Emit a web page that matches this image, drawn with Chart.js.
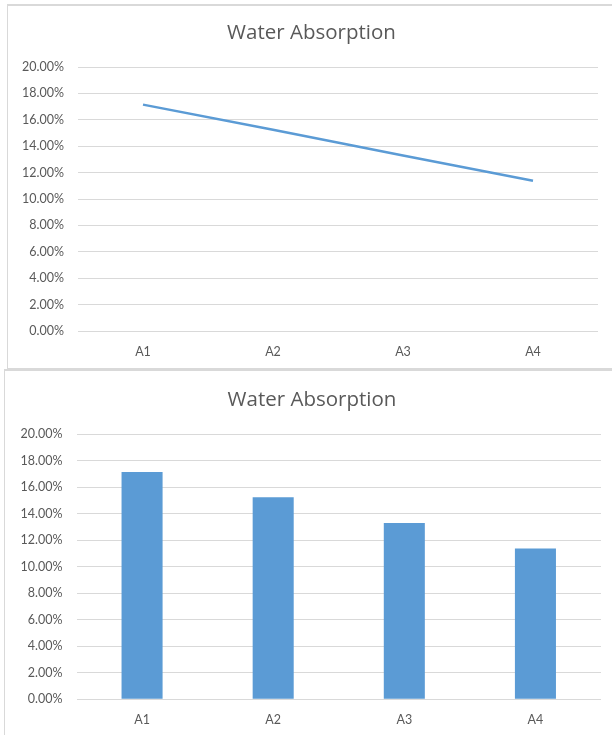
<!DOCTYPE html>
<html>
<head>
<meta charset="utf-8">
<script src="https://cdn.jsdelivr.net/npm/chart.js@4/dist/chart.umd.min.js"></script>
<style>
  html, body { margin: 0; padding: 0; background: #fff; }
  body { width: 612px; height: 735px; position: relative; overflow: hidden; }
  .frame { position: absolute; box-sizing: border-box; background: #fff; }
  #topFrame { left: 7px; top: 4px; width: 640px; height: 366px;
              border-left: 1px solid #d9d9d9; border-top: 2px solid #d9d9d9; border-bottom: 2px solid #d9d9d9; }
  #bottomFrame { left: 4px; top: 369px; width: 640px; height: 400px;
                 border-left: 1px solid #d9d9d9; border-top: 2px solid #d9d9d9; }
  .wrap { position: absolute; left: 0; }
  #topWrap { top: 0; width: 612px; height: 368px; }
  #bottomWrap { top: 365px; width: 612px; height: 370px; }
</style>
</head>
<body>
<div class="frame" id="topFrame"></div>
<div class="frame" id="bottomFrame"></div>
<div class="wrap" id="topWrap"><canvas id="lineChart"></canvas></div>
<div class="wrap" id="bottomWrap"><canvas id="barChart"></canvas></div>
<script>
// Sample labels and water absorption (as fractions)
const categories = ['A1', 'A2', 'A3', 'A4'];
const absorption = [0.1715, 0.1525, 0.1330, 0.1138];
const chartTitle = 'Water Absorption';
const yMin = 0, yMax = 0.20, yStep = 0.02;

const FONT = 'Lato, "Liberation Sans", sans-serif';
const TITLE_FONT = '"Open Sans", "Liberation Sans", sans-serif';
const TEXT = '#595959';
const GRID = '#d9d9d9';
const BLUE = '#5b9bd5';

function pct(v) { return (v * 100).toFixed(2) + '%'; }

// Nudges the title block sideways after layout (the title sits slightly right of the canvas centre)
const titleShift = {
  id: 'titleShift',
  afterLayout(chart, args, opts) {
    const t = chart.titleBlock;
    if (t && opts.dx) { t.left += opts.dx; t.right += opts.dx; }
  }
};

function baseOptions(cfg) {
  return {
    responsive: false,
    animation: false,
    devicePixelRatio: 1,
    layout: { padding: { left: 0, right: cfg.right, top: 0, bottom: 0 } },
    plugins: {
      legend: { display: false },
      tooltip: { enabled: false },
      titleShift: { dx: cfg.titleDx },
      title: {
        display: true,
        text: chartTitle,
        color: TEXT,
        font: { family: TITLE_FONT, size: 20.5, weight: 'normal', lineHeight: 1.2 },
        padding: { top: cfg.titleTop, bottom: cfg.titleBottom }
      }
    },
    scales: {
      x: {
        grid: { display: false, drawTicks: false },
        border: { display: false },
        ticks: { color: TEXT, font: { family: FONT, size: 12.5 }, padding: 13, maxRotation: 0 },
        afterFit: s => { s.height = cfg.xHeight; }
      },
      y: {
        min: yMin, max: yMax,
        grid: { color: GRID, lineWidth: 1, drawTicks: false },
        border: { display: false },
        ticks: { stepSize: yStep, color: TEXT, font: { family: FONT, size: 12.5 }, padding: 14, callback: v => pct(v) },
        afterFit: s => { s.width = cfg.yWidth; }
      }
    }
  };
}

const topCanvas = document.getElementById('lineChart');
topCanvas.width = 612; topCanvas.height = 368;
new Chart(topCanvas, {
  type: 'line',
  data: {
    labels: categories,
    datasets: [{
      data: absorption,
      borderColor: BLUE,
      borderWidth: 2.5,
      pointRadius: 0,
      tension: 0,
      fill: false
    }]
  },
  options: (() => {
    const o = baseOptions({ right: 14, titleDx: 12.5, titleTop: 20.7, titleBottom: 21.7, xHeight: 37, yWidth: 78 });
    o.scales.x.offset = true;
    return o;
  })(),
  plugins: [titleShift]
});

const bottomCanvas = document.getElementById('barChart');
bottomCanvas.width = 612; bottomCanvas.height = 370;
new Chart(bottomCanvas, {
  type: 'bar',
  data: {
    labels: categories,
    datasets: [{
      data: absorption,
      backgroundColor: BLUE,
      borderWidth: 0,
      categoryPercentage: 1,
      barPercentage: 0.313
    }]
  },
  options: baseOptions({ right: 11, titleDx: 11.5, titleTop: 22.7, titleBottom: 22, xHeight: 35.7, yWidth: 76.5 }),
  plugins: [titleShift]
});
</script>
</body>
</html>
